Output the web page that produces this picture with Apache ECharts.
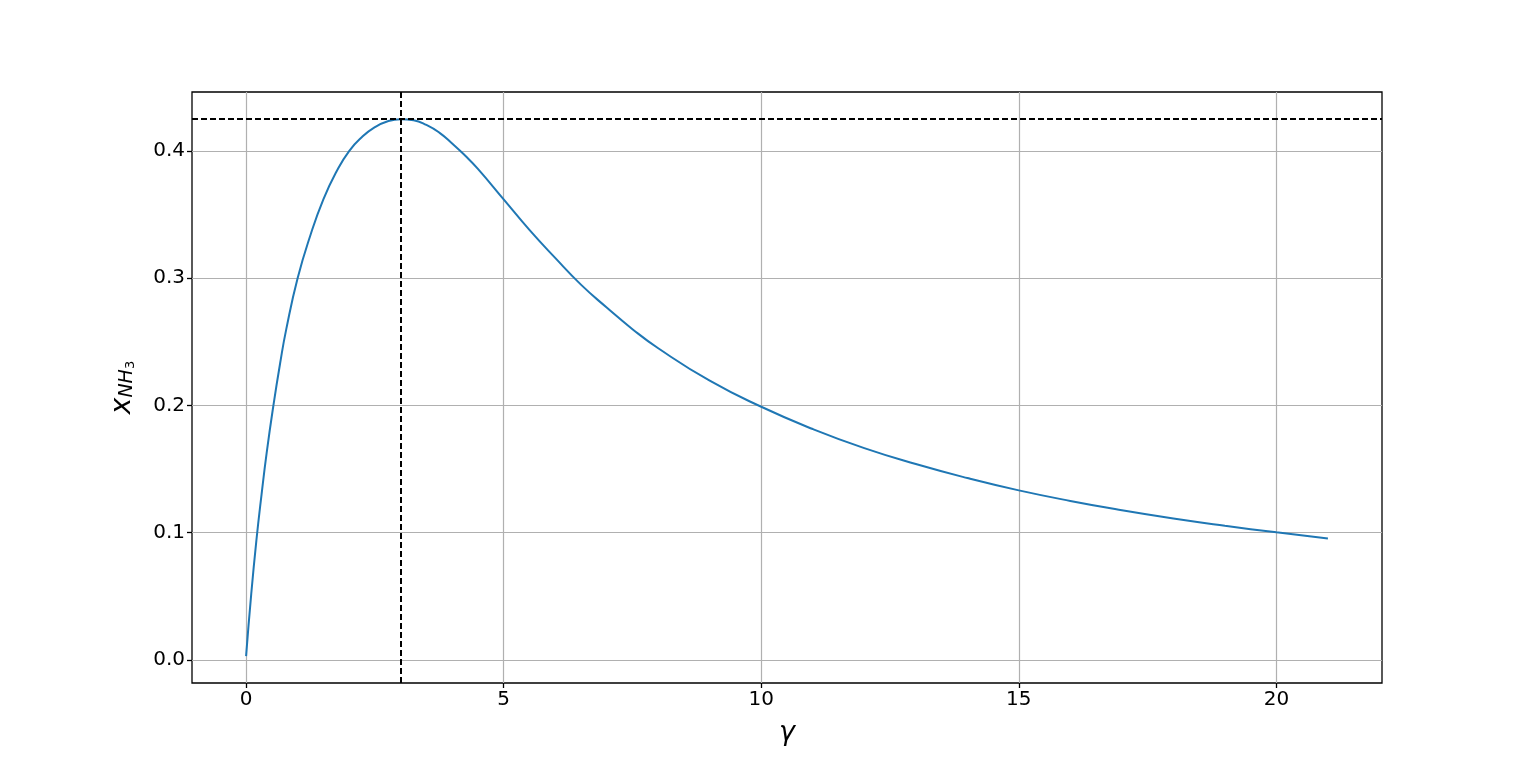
<!DOCTYPE html>
<html>
<head>
<meta charset="utf-8">
<script src="https://cdn.jsdelivr.net/npm/echarts@6/dist/echarts.min.js"></script>
<style>
html,body{margin:0;padding:0;background:#fff;}
#chart{width:1536px;height:767px;}
</style>
</head>
<body>
<div id="chart"></div>
<script>
// gamma (H2/N2 ratio) values
const gamma = [0, 0.1, 0.2, 0.3, 0.4, 0.53, 0.66, 0.78, 1.0, 1.25, 1.5, 1.75, 2.0, 2.25, 2.5, 2.75, 3.0, 3.25, 3.5, 3.75, 4.0, 4.25, 4.5, 5.0, 5.5, 6.0, 6.5, 7.0, 7.5, 8.0, 9, 10, 11, 12, 13, 14, 15, 16, 17, 18, 19, 20, 21];
// ammonia mole fraction values
const xNH3 = [0.003, 0.052, 0.094, 0.13, 0.163, 0.2, 0.233, 0.26, 0.3, 0.334, 0.362, 0.3835, 0.4, 0.411, 0.4188, 0.4234, 0.425, 0.4242, 0.4205, 0.4145, 0.406, 0.3965, 0.386, 0.362, 0.338, 0.316, 0.295, 0.277, 0.26, 0.245, 0.2195, 0.199, 0.1815, 0.1665, 0.154, 0.143, 0.1333, 0.125, 0.1177, 0.1112, 0.1055, 0.1003, 0.0955];
const xTicks = [0, 5, 10, 15, 20];
const yTicks = [0.0, 0.1, 0.2, 0.3, 0.4];
const peakGamma = 3;
const peakX = 0.425;

const chart = echarts.init(document.getElementById('chart'), null, {renderer: 'canvas'});
const font = 'DejaVu Sans';
const option = {
  backgroundColor: '#ffffff',
  animation: false,
  grid: {left: 192, right: 154, top: 92, bottom: 84, show: true, borderColor: '#000', borderWidth: 1.3, backgroundColor: 'transparent'},
  xAxis: {
    type: 'value', min: -1.05, max: 22.05,
    name: 'γ', nameLocation: 'middle', nameGap: 36,
    nameTextStyle: {fontFamily: font, fontStyle: 'italic', fontSize: 27, color: '#000'},
    axisLine: {show: false, onZero: false},
    axisTick: {show: true, customValues: xTicks, length: 5, inside: false, lineStyle: {color: '#000', width: 1.3}},
    axisLabel: {customValues: xTicks, fontFamily: font, fontSize: 20, color: '#000', margin: 7},
    splitLine: {show: true, lineStyle: {color: '#b0b0b0', width: 1.2}}
  },
  yAxis: {
    type: 'value', min: -0.0181, max: 0.4464,
    name: '{x|x}{s|NH}{t|3}', nameLocation: 'middle', nameGap: 55, nameRotate: 90,
    nameTextStyle: {
      fontFamily: font, color: '#000',
      rich: {
        x: {fontFamily: font, fontStyle: 'italic', fontSize: 28, color: '#000', verticalAlign: 'bottom', lineHeight: 30},
        s: {fontFamily: font, fontStyle: 'italic', fontSize: 19, color: '#000', verticalAlign: 'bottom', lineHeight: 22},
        t: {fontFamily: font, fontSize: 13, color: '#000', verticalAlign: 'bottom', lineHeight: 19}
      }
    },
    axisLine: {show: false, onZero: false},
    axisTick: {show: true, customValues: yTicks, length: 5, lineStyle: {color: '#000', width: 1.3}},
    axisLabel: {customValues: yTicks, fontFamily: font, fontSize: 20, color: '#000', margin: 7, formatter: v => v.toFixed(1)},
    splitLine: {show: true, lineStyle: {color: '#b0b0b0', width: 1.2}}
  },
  series: [{
    type: 'line',
    data: gamma.map((g, i) => [g, xNH3[i]]),
    showSymbol: false,
    smooth: 0.5,
    lineStyle: {color: '#1f77b4', width: 2},
    z: 3,
    markLine: {
      silent: true, symbol: ['none', 'none'], label: {show: false}, precision: 4,
      lineStyle: {color: '#000', type: [6, 3], width: 2},
      data: [{xAxis: peakGamma}, {yAxis: peakX}]
    }
  }]
};
chart.setOption(option);
</script>
</body>
</html>
